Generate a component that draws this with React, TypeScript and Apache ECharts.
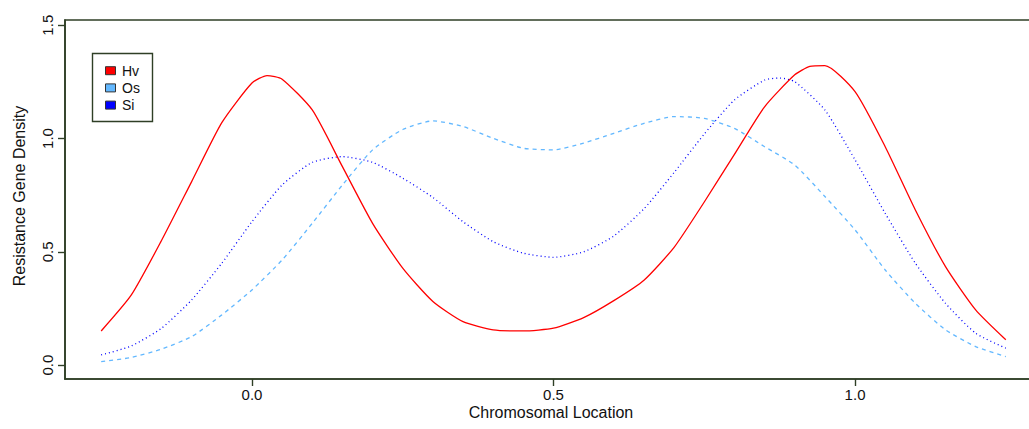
import React, { useEffect, useRef } from "react";
import * as echarts from "echarts";

const hvX = [-0.25, -0.2, -0.15, -0.1, -0.05, 0, 0.025, 0.05, 0.1, 0.15, 0.2, 0.25, 0.3, 0.35, 0.4, 0.45, 0.5, 0.55, 0.6, 0.65, 0.7, 0.75, 0.8, 0.85, 0.9, 0.925, 0.95, 1.0, 1.05, 1.1, 1.15, 1.2, 1.25];
const hvY = [0.151, 0.31, 0.55, 0.81, 1.07, 1.245, 1.278, 1.262, 1.126, 0.876, 0.626, 0.428, 0.281, 0.192, 0.156, 0.151, 0.163, 0.21, 0.285, 0.375, 0.52, 0.72, 0.93, 1.14, 1.281, 1.318, 1.322, 1.207, 0.964, 0.685, 0.435, 0.244, 0.112];
const osX = [-0.25, -0.2, -0.15, -0.1, -0.05, 0, 0.05, 0.1, 0.15, 0.2, 0.25, 0.3, 0.35, 0.4, 0.45, 0.5, 0.55, 0.6, 0.65, 0.7, 0.75, 0.8, 0.85, 0.9, 0.95, 1.0, 1.05, 1.1, 1.15, 1.2, 1.25];
const osY = [0.016, 0.034, 0.071, 0.126, 0.222, 0.332, 0.464, 0.626, 0.795, 0.95, 1.04, 1.078, 1.053, 1.001, 0.957, 0.95, 0.98, 1.023, 1.067, 1.097, 1.089, 1.045, 0.964, 0.883, 0.744, 0.597, 0.42, 0.273, 0.156, 0.082, 0.038];
const siX = [-0.25, -0.2, -0.15, -0.1, -0.05, 0, 0.05, 0.1, 0.15, 0.2, 0.25, 0.3, 0.35, 0.4, 0.45, 0.5, 0.55, 0.6, 0.65, 0.7, 0.75, 0.8, 0.85, 0.875, 0.9, 0.95, 1.0, 1.05, 1.1, 1.15, 1.2, 1.25];
const siY = [0.045, 0.085, 0.163, 0.288, 0.45, 0.633, 0.795, 0.895, 0.92, 0.895, 0.825, 0.74, 0.633, 0.545, 0.494, 0.476, 0.5, 0.57, 0.69, 0.85, 1.02, 1.17, 1.258, 1.267, 1.251, 1.126, 0.906, 0.67, 0.45, 0.273, 0.141, 0.075];

const seriesNames = ["Hv", "Os", "Si"];
const seriesColors = ["#FF0000", "#63B8FF", "#0000FF"];
const xTicks = [0, 0.5, 1.0];
const yTicks = [0, 0.5, 1.0, 1.5];
const xTitle = "Chromosomal Location";
const yTitle = "Resistance Gene Density";

const FONT = "'Liberation Sans', Arial, Helvetica, sans-serif";
const AXIS = "#2f3f26";
const X_MIN = -0.31;
const X_MAX = 1.31;
const Y_MIN = -0.061;
const Y_MAX = 1.523;

export default function App() {
  const ref = useRef<HTMLDivElement>(null);
  useEffect(() => {
    if (!ref.current) return;
    const chart = echarts.init(ref.current, null, { renderer: "svg" });
    const pairs = (xv: number[], yv: number[]) => xv.map((x, i) => [x, yv[i]]);
    const dataSets = [pairs(hvX, hvY), pairs(osX, osY), pairs(siX, siY)];
    const dashes: any[] = ["solid", [4, 4], [1, 3]];
    const legendRows = seriesNames.map((name, i) => {
      const cy = 70.7 + i * 17.2;
      return [
        {
          type: "rect",
          shape: { x: 105.5, y: cy - 4, width: 10, height: 8 },
          style: { fill: seriesColors[i], stroke: "#333", lineWidth: 1 },
          z: 20,
        },
        {
          type: "text",
          x: 122,
          y: cy,
          style: {
            text: name,
            fill: "#111",
            font: `14px ${FONT}`,
            verticalAlign: "middle",
            align: "left",
          },
          z: 20,
        },
      ];
    }).flat();

    chart.setOption({
      animation: false,
      backgroundColor: "#ffffff",
      grid: {
        left: 65,
        top: 20,
        width: 977,
        height: 359,
        show: true,
        borderColor: AXIS,
        borderWidth: 1.6,
        outerBoundsMode: "none",
      },
      xAxis: [
        {
          type: "value",
          min: X_MIN,
          max: X_MAX,
          splitLine: { show: false },
          axisLine: { show: true, onZero: false, lineStyle: { color: AXIS, width: 1.6 } },
          axisTick: { show: true, length: 7, customValues: xTicks, lineStyle: { color: AXIS, width: 1.2 } },
          axisLabel: {
            customValues: xTicks,
            formatter: (v: number) => v.toFixed(1),
            fontSize: 15,
            fontFamily: FONT,
            color: "#111",
            margin: 8,
          },
        },
        {
          type: "value",
          min: X_MIN,
          max: X_MAX,
          position: "bottom",
          splitLine: { show: false },
          axisLine: { show: false, onZero: false },
          axisTick: { show: true, length: 7, customValues: xTicks, lineStyle: { color: AXIS, width: 1.2 } },
          axisLabel: { show: false },
        },
      ],
      yAxis: [
        {
          type: "value",
          min: Y_MIN,
          max: Y_MAX,
          splitLine: { show: false },
          axisLine: { show: true, onZero: false, lineStyle: { color: AXIS, width: 1.6 } },
          axisTick: { show: true, length: 7, customValues: yTicks, lineStyle: { color: AXIS, width: 1.2 } },
          axisLabel: {
            customValues: yTicks,
            formatter: (v: number) => v.toFixed(1),
            fontSize: 15,
            fontFamily: FONT,
            color: "#111",
            rotate: 90,
            margin: 10,
          },
        },
        {
          type: "value",
          min: Y_MIN,
          max: Y_MAX,
          position: "left",
          splitLine: { show: false },
          axisLine: { show: false, onZero: false },
          axisTick: { show: true, length: 7, customValues: yTicks, lineStyle: { color: AXIS, width: 1.2 } },
          axisLabel: { show: false },
        },
      ],
      series: dataSets.map((d, i) => ({
        type: "line",
        name: seriesNames[i],
        data: d,
        smooth: 0.2,
        showSymbol: false,
        symbol: "none",
        lineStyle: { color: seriesColors[i], width: 1.3, type: dashes[i] },
        z: 3 - i,
      })),
      graphic: [
        {
          type: "text",
          x: 551,
          y: 412,
          style: {
            text: xTitle,
            fill: "#111",
            font: `16px ${FONT}`,
            align: "center",
            verticalAlign: "middle",
          },
        },
        {
          type: "text",
          x: 19,
          y: 196,
          rotation: Math.PI / 2,
          style: {
            text: yTitle,
            fill: "#111",
            font: `16px ${FONT}`,
            align: "center",
            verticalAlign: "middle",
          },
        },
        {
          type: "rect",
          shape: { x: 92.5, y: 53.5, width: 60, height: 68 },
          style: { fill: "#ffffff", stroke: AXIS, lineWidth: 1.4 },
          z: 19,
        },
        ...legendRows,
      ],
    });
    return () => chart.dispose();
  }, []);
  return <div ref={ref} style={{ width: 1029, height: 429, position: "fixed", left: 0, top: 0 }} />;
}
